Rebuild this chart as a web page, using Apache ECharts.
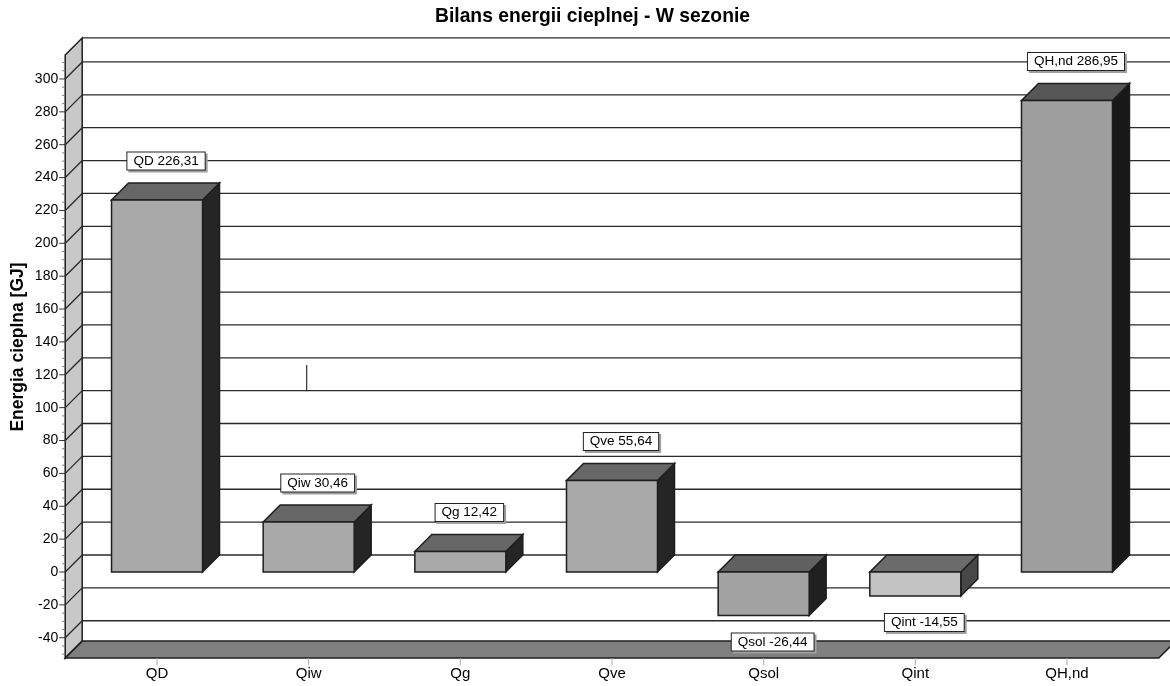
<!DOCTYPE html>
<html>
<head>
<meta charset="utf-8">
<script src="https://cdn.jsdelivr.net/npm/echarts@6/dist/echarts.min.js"></script>
<style>
  html, body { margin: 0; padding: 0; background: #ffffff; }
  #chart { width: 1170px; height: 686px; }
</style>
</head>
<body>
<div id="chart"></div>
<script>
// Heat balance components for the heating season [GJ]
const categories = ['QD', 'Qiw', 'Qg', 'Qve', 'Qsol', 'Qint', 'QH,nd'];
const values = [226.31, 30.46, 12.42, 55.64, -26.44, -14.55, 286.95];

// Value axis: labelled ticks and the extent of the walls / floor
const yTicks = [-40, -20, 0, 20, 40, 60, 80, 100, 120, 140, 160, 180, 200, 220, 240, 260, 280, 300];
const wallRange = [-52.4, 314.6];
const minorStep = 5;

// Short stray stroke above the Qiw column: [category index, from, to]
const strayStroke = [1, 110, 126];

// Per-column shading: front, top, side
const frontColors = ['#a9a9a9', '#a9a9a9', '#a9a9a9', '#a9a9a9', '#a3a3a3', '#c3c3c3', '#9e9e9e'];
const topColors   = ['#676767', '#676767', '#676767', '#676767', '#616161', '#6b6b6b', '#575757'];
const sideColors  = ['#252525', '#252525', '#252525', '#252525', '#202020', '#474747', '#181818'];

const DEPTH = 17;        // pseudo-3D depth offset in px (45 degrees)
const WALL_PAD = 16;     // floor overhang beyond the outer category bands
const EDGE = '#1e1e1e';
const FONT = "'Liberation Sans', Arial, Helvetica, sans-serif";

function fmt(v) { return v.toFixed(2).replace('.', ','); }

function renderFrame(params, api) {
  const n = categories.length;
  const band = api.size([1, 0])[0];
  const xL = api.coord([0, 0])[0] - band / 2 - WALL_PAD;
  const xR = api.coord([n - 1, 0])[0] + band / 2 + WALL_PAD;
  const yOf = v => api.coord([0, v])[1];
  const yTop = yOf(wallRange[1]);
  const yBot = yOf(wallRange[0]);
  const D = DEPTH;
  const children = [];

  // back wall grid lines
  const backLines = yTicks.concat([wallRange[1]]);
  backLines.forEach(v => {
    const y = yOf(v) - D;
    children.push({ type: 'line', shape: { x1: xL + D, y1: y, x2: xR + D, y2: y },
      style: { stroke: '#2a2a2a', lineWidth: 1.3 } });
  });

  // left wall
  children.push({ type: 'polygon',
    shape: { points: [[xL, yTop], [xL + D, yTop - D], [xL + D, yBot - D], [xL, yBot]] },
    style: { fill: '#c8c8c8', stroke: EDGE, lineWidth: 1.5 } });
  yTicks.forEach(v => {
    const y = yOf(v);
    children.push({ type: 'line', shape: { x1: xL, y1: y, x2: xL + D, y2: y - D },
      style: { stroke: '#2a2a2a', lineWidth: 1.3 } });
  });

  // floor
  children.push({ type: 'polygon',
    shape: { points: [[xL, yBot], [xR, yBot], [xR + D, yBot - D], [xL + D, yBot - D]] },
    style: { fill: '#808080', stroke: EDGE, lineWidth: 1.5 } });

  // value axis ticks on the front edge
  for (let v = Math.ceil(wallRange[0] / minorStep) * minorStep; v <= wallRange[1]; v += minorStep) {
    const major = yTicks.indexOf(v) >= 0;
    const y = yOf(v);
    children.push({ type: 'line', shape: { x1: xL - (major ? 6 : 3), y1: y, x2: xL, y2: y },
      style: { stroke: major ? '#333' : '#777', lineWidth: 1 } });
  }

  // category ticks below the floor
  for (let i = 0; i < n; i++) {
    const x = api.coord([i, 0])[0];
    children.push({ type: 'line', shape: { x1: x, y1: yBot, x2: x, y2: yBot + 7 },
      style: { stroke: '#aaaaaa', lineWidth: 1 } });
  }

  return { type: 'group', children };
}

function renderColumn(params, api) {
  const i = api.value(0);
  const v = api.value(1);
  const c = api.coord([i, v]);
  const c0 = api.coord([i, 0]);
  const w = api.size([1, 0])[0] * 0.6;
  const x0 = c[0] - w / 2, x1 = c[0] + w / 2;
  const yt = Math.min(c[1], c0[1]);
  const yb = Math.max(c[1], c0[1]);
  const D = DEPTH;
  return {
    type: 'group',
    children: [
      { type: 'polygon',
        shape: { points: [[x1, yt], [x1 + D, yt - D], [x1 + D, yb - D], [x1, yb]] },
        style: { fill: sideColors[i], stroke: EDGE, lineWidth: 1.5 } },
      { type: 'polygon',
        shape: { points: [[x0, yt], [x1, yt], [x1 + D, yt - D], [x0 + D, yt - D]] },
        style: { fill: topColors[i], stroke: EDGE, lineWidth: 1.5 } },
      { type: 'rect', shape: { x: x0, y: yt, width: w, height: yb - yt },
        style: { fill: frontColors[i], stroke: EDGE, lineWidth: 1.5 } }
    ]
  };
}

function renderValueLabel(params, api) {
  const i = api.value(0);
  const v = api.value(1);
  const c = api.coord([i, v]);
  const x = c[0] + 9;
  const y = v >= 0 ? c[1] - 39 : c[1] + 26.5;
  const text = categories[i] + ' ' + fmt(v);
  const base = {
    text, x, y, align: 'center', verticalAlign: 'middle',
    font: '13.5px ' + FONT, padding: [2, 6, 1, 6], borderWidth: 1
  };
  return {
    type: 'group',
    children: [
      { type: 'text', x: 2, y: 2,
        style: Object.assign({}, base, { fill: 'rgba(0,0,0,0)', backgroundColor: '#a0a0a0', borderColor: '#a0a0a0' }) },
      { type: 'text',
        style: Object.assign({}, base, { fill: '#000', backgroundColor: '#ffffff', borderColor: '#222' }) }
    ]
  };
}

function renderStray(params, api) {
  const a = api.coord([api.value(0), api.value(1)]);
  const b = api.coord([api.value(0), api.value(2)]);
  return { type: 'line', shape: { x1: a[0] - 2, y1: a[1], x2: b[0] - 2, y2: b[1] },
    style: { stroke: '#333', lineWidth: 1.2 } };
}

const chart = echarts.init(document.getElementById('chart'), null, { renderer: 'canvas' });
chart.setOption({
  animation: false,
  backgroundColor: '#ffffff',
  textStyle: { fontFamily: FONT },
  title: {
    text: 'Bilans energii cieplnej - W sezonie',
    left: 435, top: 7, padding: 0,
    textStyle: { fontSize: 19.3, fontWeight: 'bold', color: '#000', fontFamily: FONT }
  },
  graphic: [{
    type: 'text', x: 18, y: 347, rotation: Math.PI / 2,
    style: { text: 'Energia cieplna [GJ]', align: 'center', verticalAlign: 'middle',
      font: 'bold 17.5px ' + FONT, fill: '#000' }
  }],
  grid: { left: 81.2, width: 1061.6, top: 46.1, height: 624.5, containLabel: false },
  xAxis: {
    type: 'category', data: categories, offset: -12.6,
    axisLine: { show: false }, axisTick: { show: false }, splitLine: { show: false },
    axisLabel: { margin: 8, fontSize: 15, color: '#000', fontFamily: FONT }
  },
  yAxis: {
    type: 'value', min: -60, max: 320, interval: 20,
    axisLine: { show: false }, axisTick: { show: false }, splitLine: { show: false },
    axisLabel: {
      margin: 23, fontSize: 14, color: '#000', fontFamily: FONT,
      formatter: v => (v < wallRange[0] || v > wallRange[1]) ? '' : String(v)
    }
  },
  series: [
    { type: 'custom', name: 'frame', renderItem: renderFrame, data: [[0, 0]], z: 1, silent: true },
    { type: 'custom', name: 'stray', renderItem: renderStray, data: [strayStroke],
      encode: { x: 0, y: [1, 2] }, z: 2, silent: true },
    { type: 'custom', name: 'columns', renderItem: renderColumn,
      data: values.map((v, i) => [i, v]), encode: { x: 0, y: 1 }, z: 3 },
    { type: 'custom', name: 'labels', renderItem: renderValueLabel,
      data: values.map((v, i) => [i, v]), encode: { x: 0, y: 1 }, z: 4, silent: true }
  ]
});
</script>
</body>
</html>
